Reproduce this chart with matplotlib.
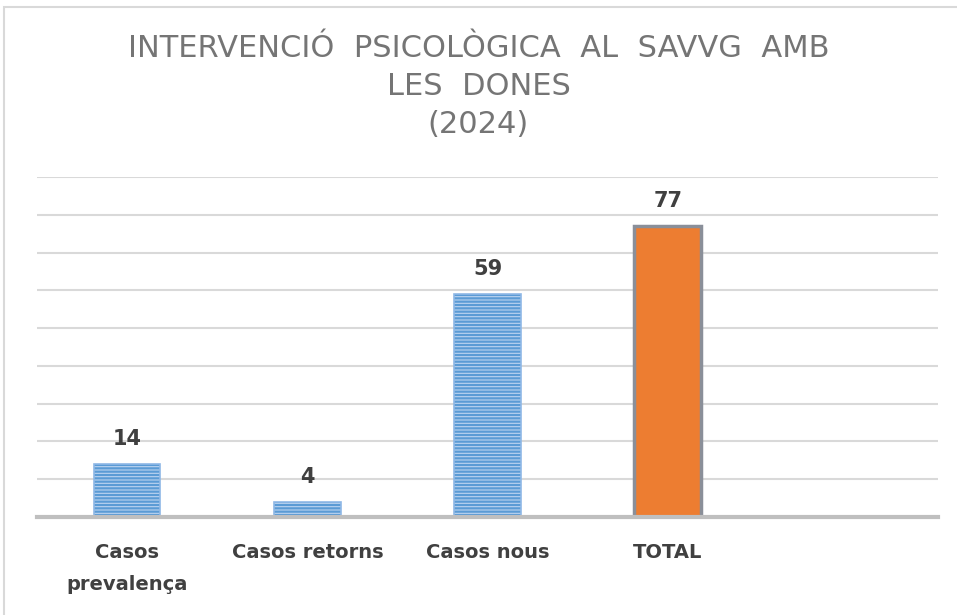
import matplotlib.pyplot as plt
from matplotlib.patches import Rectangle

# Data
categories = ['Casos\nprevalença', 'Casos retorns', 'Casos nous', 'TOTAL', '']
values = [14, 4, 59, 77, None]

fig = plt.figure(figsize=(9.57, 6.15), dpi=100)
ax = fig.add_axes([0.0387, 0.1593, 0.9415, 0.5529])

x = list(range(len(categories)))
bar_vals = [v for v in values if v is not None]
bar_x = x[:len(bar_vals)]

# blue hatched bars for the first three, orange for total
plt.rcParams['hatch.linewidth'] = 1.6
for i, v in zip(bar_x, bar_vals):
    if categories[i] == 'TOTAL':
        ax.bar(i, v, width=0.37, color='#ed7d31', edgecolor='#8a8f99', linewidth=2.5, zorder=3)
    else:
        ax.bar(i, v, width=0.37, color='#bcd4f0', edgecolor='#5b9bd5', hatch='-----',
               linewidth=0, zorder=3)
        ax.bar(i, v, width=0.37, fill=False, edgecolor='#8fb8e6', linewidth=1.2, zorder=4)
    ax.text(i, v + 4.0, str(v), ha='center', va='bottom', fontsize=15,
            fontweight='bold', color='#404040')

ax.set_xlim(-0.5, len(categories) - 0.5)
ax.set_ylim(0, 90)
ax.set_yticks(range(0, 91, 10))
ax.yaxis.grid(True, color='#d9d9d9', linewidth=1.5, zorder=0)
ax.tick_params(axis='y', left=False, labelleft=False)
ax.tick_params(axis='x', length=0, pad=19)
ax.set_xticks(x)
ax.set_xticklabels(categories, fontsize=14, fontweight='bold', color='#404040',
                   linespacing=1.85, va='top')
for s in ['top', 'right', 'left']:
    ax.spines[s].set_visible(False)
ax.spines['bottom'].set_color('#bfbfbf')
ax.spines['bottom'].set_linewidth(3)
ax.spines['bottom'].set_zorder(5)

fig.text(0.5, 0.945, 'INTERVENCIÓ  PSICOLÒGICA  AL  SAVVG  AMB\nLES  DONES\n(2024)',
         ha='center', va='top', fontsize=22, color='#757575', linespacing=1.4)

# chart border (visible on left and top)
fig.patches.append(Rectangle((0.004, -0.01), 1.2, 0.998, transform=fig.transFigure,
                             fill=False, edgecolor='#d9d9d9', linewidth=1.5))

plt.savefig('out.png', dpi=100)
plt.close()
